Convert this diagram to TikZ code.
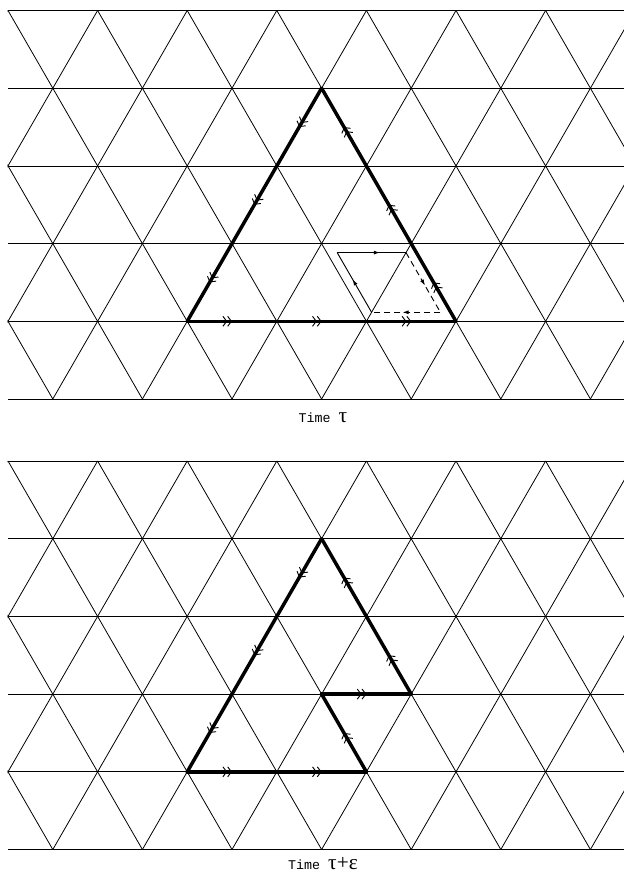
\documentclass[tikz,border=0pt]{standalone}
\usepackage{fontspec}
\newfontfamily\monofont{Liberation Mono}
\newfontfamily\greekfont{Liberation Serif}
\usepackage{tikz}
\usetikzlibrary{arrows.meta,decorations.markings}
\tikzset{
  grid/.style={draw=black, line width=0.6pt},
  bold/.style={draw=black, line width=2.6pt, line cap=round, line join=round},
  thinl/.style={draw=black, line width=0.7pt},
  dsh/.style={thinl, dash pattern=on 4.5pt off 3pt},
  dbl/.style={postaction={decorate}, decoration={markings,
    mark=at position 0.5 with {\arrow{Straight Barb[length=2.8pt,width=7.5pt,line width=0.7pt] Straight Barb[length=2.8pt,width=7.5pt,line width=0.7pt]}}}},
  sgl/.style={postaction={decorate}, decoration={markings,
    mark=at position #1 with {\arrow{Latex[length=4.5pt,width=3pt]}}}},
  sgl/.default=0.55,
  lab/.style={font=\monofont\fontsize{10}{12}\selectfont, inner sep=0pt, anchor=base},
}
\newcommand\grk[1]{{\greekfont\fontsize{16}{16}\selectfont #1}}

\begin{document}
\begin{tikzpicture}[x=0.75pt, y=-0.75pt]
  \useasboundingbox (0,0) rectangle (624,874);
  % the two triangular lattices
  \foreach \yo in {10.5,461}{
    \begin{scope}
      \clip (7.6,\yo-1) rectangle (625,\yo+389.5);
      \foreach \r in {0,...,5} \draw[grid] (8,\yo+\r*77.7) -- (624,\yo+\r*77.7);
      \foreach \k in {-3,...,7} \draw[grid] (8+\k*89.6,\yo) -- ++(224,388.5);
      \foreach \k in {0,...,10} \draw[grid] (8+\k*89.6,\yo) -- ++(-224,388.5);
    \end{scope}
  }
  % time tau
  \coordinate (P1) at (321.6,88.2);
  \coordinate (P2) at (276.8,165.9);
  \coordinate (P3) at (232,243.6);
  \coordinate (P4) at (187.2,321.3);
  \coordinate (P5) at (276.8,321.3);
  \coordinate (P6) at (366.4,321.3);
  \coordinate (P7) at (456,321.3);
  \coordinate (P8) at (411.2,243.6);
  \coordinate (P9) at (366.4,165.9);
  \foreach \a/\b in {P1/P2,P2/P3,P3/P4,P4/P5,P5/P6,P6/P7,P7/P8,P8/P9,P9/P1}
    \draw[bold,dbl] (\a) -- (\b);
  \coordinate (a) at (337.2,252.6);
  \coordinate (b) at (406,252.6);
  \coordinate (c) at (440.4,312.3);
  \coordinate (d) at (371.6,312.3);
  \draw[thinl,sgl=0.62] (a) -- (b);
  \draw[dsh,sgl] (b) -- (c);
  \draw[dsh,sgl] (c) -- (d);
  \draw[thinl,sgl] (d) -- (a);
  \node[lab] (t1) at (323,422) {Time \grk{τ}};
  % time tau+epsilon
  \coordinate (Q1) at (321.6,538.7);
  \coordinate (Q2) at (276.8,616.4);
  \coordinate (Q3) at (232,694.1);
  \coordinate (Q4) at (187.2,771.8);
  \coordinate (Q5) at (276.8,771.8);
  \coordinate (Q6) at (366.4,771.8);
  \coordinate (Q7) at (321.6,694.1);
  \coordinate (Q8) at (411.2,694.1);
  \coordinate (Q9) at (366.4,616.4);
  \foreach \a/\b in {Q1/Q2,Q2/Q3,Q3/Q4,Q4/Q5,Q5/Q6,Q6/Q7,Q7/Q8,Q8/Q9,Q9/Q1}
    \draw[bold,dbl] (\a) -- (\b);
  \node[lab] (t2) at (323,869) {Time \grk{τ+ε}};
\end{tikzpicture}
\end{document}
